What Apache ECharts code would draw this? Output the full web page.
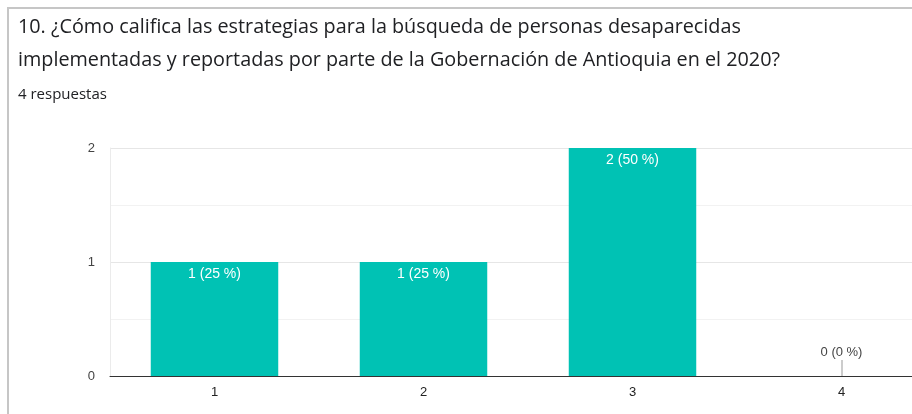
<!DOCTYPE html>
<html>
<head>
<meta charset="utf-8">
<script src="https://cdn.jsdelivr.net/npm/echarts@6/dist/echarts.min.js"></script>
<style>
	html, body { margin: 0; padding: 0; background: #fff; overflow: hidden; }
	#chart { width: 950px; height: 414px; }
</style>
</head>
<body>
<div id="chart"></div>
<script>
const titleLines = [
	'10. ¿Cómo califica las estrategias para la búsqueda de personas desaparecidas',
	'implementadas y reportadas por parte de la Gobernación de Antioquia en el 2020?'
]
const subtitle = '4 respuestas'
const categories = ['1', '2', '3', '4']
const counts = [1, 1, 2, 0]
const percents = [25, 25, 50, 0]

const chart = echarts.init(document.getElementById('chart'))

// categories with no answers get a short stem + label above the axis
const zeroPoints = counts.map((v, i) => (v === 0 ? [i, v] : null)).filter(Boolean)

const option = {
	animation: false,
	backgroundColor: '#fff',
	graphic: [
		{
			type: 'rect',
			shape: { x: 8, y: 8, width: 1000, height: 500 },
			style: { fill: 'none', stroke: '#c6c6c6', lineWidth: 2 },
			z: 0
		},
		{
			type: 'text',
			style: { x: 18, y: 27, text: titleLines[0], font: '19.8px "Open Sans"', verticalAlign: 'middle', fill: '#202124' }
		},
		{
			type: 'text',
			style: { x: 18, y: 60, text: titleLines[1], font: '19.8px "Open Sans"', verticalAlign: 'middle', fill: '#202124' }
		},
		{
			type: 'text',
			style: { x: 18, y: 95, text: subtitle, font: '15px "Open Sans"', verticalAlign: 'middle', fill: '#202124' }
		}
	],
	grid: { left: 110, top: 148, right: 4, height: 228 },
	xAxis: {
		type: 'category',
		data: categories,
		axisLine: { lineStyle: { color: '#333', width: 1 } },
		axisTick: { show: false },
		axisLabel: { color: '#222', fontFamily: 'Liberation Sans', fontSize: 13, margin: 10 },
		splitLine: { show: false }
	},
	yAxis: {
		type: 'value',
		min: 0,
		max: 2,
		interval: 1,
		axisLine: { show: true, lineStyle: { color: '#ebebeb' } },
		axisTick: { show: false },
		axisLabel: { color: '#444', fontFamily: 'Liberation Sans', fontSize: 13, margin: 15 },
		splitLine: { lineStyle: { color: '#e6e6e6' } },
		minorTick: { show: false, splitNumber: 2 },
		minorSplitLine: { show: true, lineStyle: { color: '#f2f2f2' } }
	},
	series: [
		{
			type: 'bar',
			data: counts,
			barWidth: '61%',
			itemStyle: { color: '#00c2b4' },
			label: {
				show: true,
				position: 'insideTop',
				distance: 5,
				color: '#fff',
				fontFamily: 'Liberation Sans',
				fontSize: 14,
				formatter: (p) => (p.value > 0 ? `${p.value} (${percents[p.dataIndex]} %)` : '')
			}
		},
		{
			type: 'custom',
			data: zeroPoints,
			clip: false,
			renderItem: (params, api) => {
				const i = api.value(0)
				const pt = api.coord([i, api.value(1)])
				return {
					type: 'group',
					children: [
						{
							type: 'line',
							shape: { x1: pt[0] + 0.5, y1: pt[1] - 16, x2: pt[0] + 0.5, y2: pt[1] },
							style: { stroke: '#999', lineWidth: 1 }
						},
						{
							type: 'text',
							style: {
								x: pt[0],
								y: pt[1] - 24,
								text: `${counts[i]} (${percents[i]} %)`,
								align: 'center',
								verticalAlign: 'middle',
								font: '13px "Liberation Sans"',
								fill: '#444'
							}
						}
					]
				}
			}
		}
	]
}

chart.setOption(option)
</script>
</body>
</html>
